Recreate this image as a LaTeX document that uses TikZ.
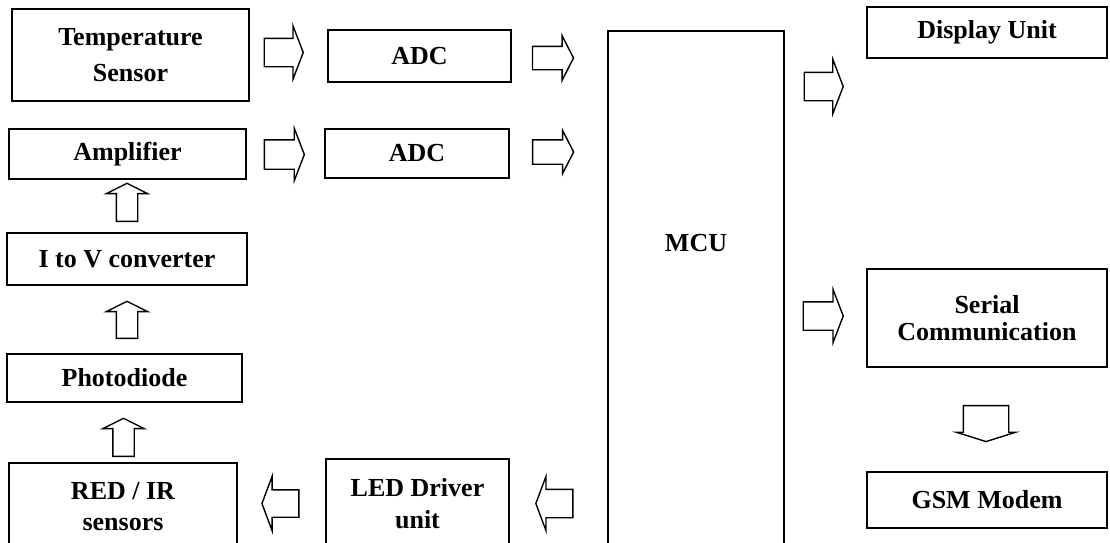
\documentclass[tikz,border=0pt]{standalone}
\usepackage{fontspec}
\setmainfont{Liberation Serif}
\usetikzlibrary{shapes.arrows}

\tikzset{
  blockbox/.style={draw, line width=0.8pt, inner sep=0pt, align=center,
    font=\bfseries\fontsize{14.8}{17}\selectfont},
  fatarrow/.style={draw, line width=0.8pt, single arrow, inner xsep=0pt, inner ysep=0.27cm,
    single arrow head extend=0.25cm, single arrow tip angle=138, minimum height=0.8cm},
  slimarrow/.style={fatarrow, inner ysep=0.22cm, single arrow head extend=0.21cm,
    single arrow tip angle=126, minimum height=0.82cm},
  uparrow/.style={fatarrow, rotate=90, inner ysep=0.2cm, single arrow head extend=0.2cm,
    single arrow tip angle=127, minimum height=0.76cm},
}

\begin{document}
\begin{tikzpicture}
    \path[use as bounding box, clip] (0,0) rectangle (22.2,10.84);

    % left column
    \node[blockbox, minimum width=4.74cm, minimum height=1.84cm,
          font=\bfseries\fontsize{14.8}{20.5}\selectfont] (temp) at (2.61,9.74) {Temperature\\Sensor};
    \node[blockbox, minimum width=4.74cm, minimum height=1.00cm] (amp) at (2.55,7.76) {Amplifier};
    \node[blockbox, minimum width=4.80cm, minimum height=1.04cm] (itov) at (2.54,5.66) {I to V converter};
    \node[blockbox, minimum width=4.70cm, minimum height=0.96cm] (photo) at (2.49,3.28) {Photodiode};
    \node[blockbox, minimum width=4.56cm, minimum height=1.76cm,
          font=\bfseries\fontsize{14.8}{17.6}\selectfont] (redir) at (2.46,0.70) {RED / IR\\sensors};

    % middle column
    \node[blockbox, minimum width=3.66cm, minimum height=1.04cm] (adcA) at (8.39,9.72) {ADC};
    \node[blockbox, minimum width=3.68cm, minimum height=0.98cm] (adcB) at (8.34,7.77) {ADC};
    \node[blockbox, minimum width=3.66cm, minimum height=1.78cm,
          font=\bfseries\fontsize{14.8}{18}\selectfont] (led) at (8.35,0.77) {LED Driver\\unit};

    % controller
    \node[blockbox, minimum width=3.52cm, minimum height=10.58cm,
          label={[font=\bfseries\fontsize{14.8}{17}\selectfont, yshift=1.05cm]center:MCU}] (mcu) at (13.92,4.93) {};

    % right column
    \node[blockbox, minimum width=4.80cm, minimum height=1.02cm] (disp) at (19.74,10.19) {Display Unit};
    \node[blockbox, minimum width=4.80cm, minimum height=1.96cm,
          font=\bfseries\fontsize{14.8}{15.5}\selectfont] (serial) at (19.74,4.48) {Serial\\Communication};
    \node[blockbox, minimum width=4.80cm, minimum height=1.12cm] (gsm) at (19.74,0.84) {GSM Modem};

    % block arrows
    \node[fatarrow, minimum height=0.78cm] (tempadc) at (5.62,9.79) {};
    \node[slimarrow] (adcmcuA) at (11.00,9.68) {};
    \node[fatarrow, inner ysep=0.28cm, single arrow head extend=0.23cm] (ampadc) at (5.63,7.75) {};
    \node[slimarrow, inner ysep=0.23cm, single arrow head extend=0.19cm] (adcmcuB) at (11.00,7.80) {};
    \node[uparrow] (itovamp) at (2.54,6.74) {};
    \node[uparrow, minimum height=0.74cm] (photoitov) at (2.54,4.39) {};
    \node[uparrow] (redirphoto) at (2.47,2.04) {};
    \node[fatarrow, rotate=180, inner ysep=0.26cm, single arrow head extend=0.27cm,
          single arrow tip angle=139, minimum height=0.74cm] (ledredir) at (5.66,0.77) {};
    \node[fatarrow, rotate=180, single arrow head extend=0.26cm,
          single arrow tip angle=139, minimum height=0.74cm] (mculed) at (11.14,0.77) {};
    \node[fatarrow, single arrow head extend=0.26cm, minimum height=0.78cm] (mcudisp) at (16.42,9.11) {};
    \node[fatarrow] (mcuserial) at (16.41,4.52) {};
    \node[fatarrow, rotate=-90, inner ysep=0.44cm, single arrow head extend=0.14cm,
          single arrow tip angle=145, minimum height=0.72cm] (serialgsm) at (19.72,2.44) {};
\end{tikzpicture}
\end{document}
